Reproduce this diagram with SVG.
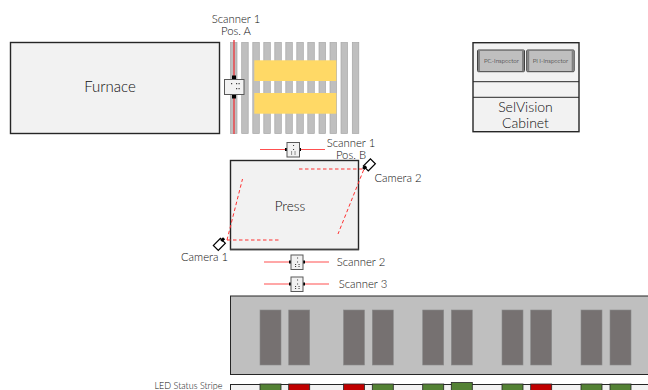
<svg xmlns="http://www.w3.org/2000/svg" width="648" height="390" viewBox="0 0 648 390">
<style>
text{font-family:"Lato","Open Sans",sans-serif;font-weight:300;fill:#0d0d0d;text-anchor:middle}
.lbl{font-size:11.300px}
.box{fill:#f2f2f2;stroke:#262626;stroke-width:1.4}
.roller{fill:#bfbfbf;stroke:#a6a6a6;stroke-width:.7}
.yellow{fill:#ffd966}
.dark{fill:#767171;stroke:#8a8a8a;stroke-width:.6}
.ray{stroke:#ff5050;stroke-width:1;fill:none}
.pink{stroke:#ff8a8a;stroke-width:1.300;fill:none}
.dash{stroke:#ff3030;stroke-width:1;stroke-dasharray:3.500 2.500;fill:none}
.scan{fill:#f2f2f2;stroke:#595959;stroke-width:1}
.dot{fill:#404040}
.cam{fill:#fff;stroke:#000;stroke-width:1.200}
.g{fill:#548235;stroke:#262626;stroke-width:.8}
.r{fill:#c00000;stroke:#262626;stroke-width:.8}
.insp{fill:#bfbfbf;stroke:#404040;stroke-width:1}
</style>
<g id="furnace"><rect class="box" x="10.500" y="42.500" width="209" height="91"/><text x="110" y="92" font-size="15">Furnace</text></g>
<g id="rollers">
<rect class="roller" x="230.500" y="42.500" width="6.500" height="91"/><rect class="roller" x="241.700" y="42.500" width="6.500" height="91"/><rect class="roller" x="252.800" y="42.500" width="6.500" height="91"/><rect class="roller" x="263.800" y="42.500" width="6.500" height="91"/><rect class="roller" x="274.800" y="42.500" width="6.500" height="91"/><rect class="roller" x="285.800" y="42.500" width="6.500" height="91"/><rect class="roller" x="296.800" y="42.500" width="6.500" height="91"/><rect class="roller" x="307.800" y="42.500" width="6.500" height="91"/><rect class="roller" x="319" y="42.500" width="6.500" height="91"/><rect class="roller" x="330" y="42.500" width="6.500" height="91"/><rect class="roller" x="341" y="42.500" width="6.500" height="91"/><rect class="roller" x="352.300" y="42.500" width="6.500" height="91"/>
<rect class="yellow" x="254.300" y="60.300" width="82" height="20.700"/><rect class="yellow" x="254.300" y="93" width="82" height="20.700"/>
</g>
<g id="press"><rect class="box" x="230.500" y="160.500" width="128" height="89"/><path d="M230 249.500H359" stroke="#404040" stroke-width="1.500"/><text x="290" y="211" font-size="13.500">Press</text></g>
<g id="connectors">
<path d="M234 40V134" stroke="#e8474c" stroke-width="1.500" fill="none"/>
<path class="ray" d="M260 149.500H325"/>
<path class="pink" d="M264 262H329M264 284H329"/>
<path class="dash" d="M299 169H364L338 234M227 240H281M227 240L242.500 179"/>
</g>
<g id="scanner-1-a"><rect x="232" y="75.500" width="4" height="23" fill="#000"/><rect class="scan" x="224.500" y="79.500" width="19.500" height="15" stroke="#262626"/><path class="dot" d="M231 83h1.200v1.200H231zM236 83h1.200v1.200H236zM238.500 83h1.200v1.200h-1.200zM236 88h1.200v1.200H236zM238.500 88h1.200v1.200h-1.200z"/><text class="lbl" x="236" y="23">Scanner 1</text><text class="lbl" x="236" y="35">Pos. A</text></g>
<g id="scanner-1-b"><rect x="285" y="148" width="16" height="3" fill="#000"/><rect class="scan" x="287" y="142.500" width="12.500" height="14.500"/><path class="dot" d="M293 145h1.100v1.100H293zM293 149h1.100v1.100H293zM291 151.500h1.100v1.100H291zM294.500 151.500h1.100v1.100h-1.100zM291 153.500h1.100v1.100H291zM294.500 153.500h1.100v1.100h-1.100z"/><text class="lbl" x="351" y="147">Scanner 1</text><text class="lbl" x="351" y="159">Pos. B</text></g>
<g id="camera-1"><rect class="cam" x="-5" y="-3" width="10" height="7" transform="translate(219 244) rotate(-45)"/><rect x="-2" y="-2" width="4" height="3" transform="translate(223 240) rotate(-45)"/><text class="lbl" x="204.500" y="261">Camera 1</text></g>
<g id="camera-2"><rect class="cam" x="-5" y="-3" width="10" height="7" transform="translate(369 164.500) rotate(-45)"/><rect x="-2" y="-2" width="4" height="3" transform="translate(365 168) rotate(-45)"/><text class="lbl" x="398" y="182">Camera 2</text></g>
<g id="scanner-2"><rect x="289" y="260.500" width="16" height="3" fill="#000"/><rect class="scan" x="291" y="255" width="12" height="14.500"/><path class="dot" d="M297 257.500h1.100v1.100H297zM297 261.500h1.100v1.100H297zM295 264h1.100v1.100H295zM298.500 264h1.100v1.100h-1.100zM295 266h1.100v1.100H295zM298.500 266h1.100v1.100h-1.100z"/><text class="lbl" x="361" y="266">Scanner 2</text></g>
<g id="scanner-3"><rect x="289" y="282.500" width="16" height="3" fill="#000"/><rect class="scan" x="291" y="277" width="12" height="14.500"/><path class="dot" d="M297 279.500h1.100v1.100H297zM297 283.500h1.100v1.100H297zM295 286h1.100v1.100H295zM298.500 286h1.100v1.100h-1.100zM295 288h1.100v1.100H295zM298.500 288h1.100v1.100h-1.100z"/><text class="lbl" x="363" y="288">Scanner 3</text></g>
<g id="lehr"><rect x="230.500" y="296" width="430" height="78.500" fill="#bfbfbf" stroke="#262626" stroke-width="1"/>
<rect class="dark" x="260" y="310" width="21" height="55"/><rect class="dark" x="288.700" y="310" width="21" height="55"/><rect class="dark" x="343.500" y="310" width="21" height="55"/><rect class="dark" x="372.300" y="310" width="21" height="55"/><rect class="dark" x="422.700" y="310" width="21" height="55"/><rect class="dark" x="451.300" y="310" width="21" height="55"/><rect class="dark" x="502" y="310" width="21" height="55"/><rect class="dark" x="530.700" y="310" width="21" height="55"/><rect class="dark" x="581" y="310" width="21" height="55"/><rect class="dark" x="610" y="310" width="21" height="55"/></g>
<g id="led-stripe"><rect x="230.500" y="384.500" width="430" height="20" fill="#f2f2f2" stroke="#262626" stroke-width="1"/>
<rect class="g" x="260" y="384" width="21" height="10"/><rect class="r" x="288.700" y="384" width="21" height="10"/><rect class="r" x="343.500" y="384" width="21" height="10"/><rect class="g" x="372.300" y="384" width="21" height="10"/><rect class="g" x="422.700" y="384" width="21" height="10"/><rect class="g" x="451.300" y="382.500" width="21" height="12"/><rect class="g" x="502" y="384" width="21" height="10"/><rect class="r" x="530.700" y="384" width="21" height="10"/><rect class="g" x="581" y="384" width="21" height="10"/><rect class="g" x="610" y="384" width="21" height="10"/>
<text x="188.500" y="388.500" font-size="9">LED Status Stripe</text></g>
<g id="selvision-cabinet"><rect class="box" x="473" y="42.700" width="106" height="89" stroke="#404040"/><path d="M473 81.700H579M473 97.300H579" stroke="#262626" stroke-width="1"/>
<rect class="insp" x="477.500" y="50" width="47" height="21.700" rx="1"/><rect x="478" y="50.500" width="2" height="20.700" fill="#7f7f7f"/><rect x="522" y="50.500" width="2" height="20.700" fill="#7f7f7f"/><rect class="insp" x="526.700" y="50" width="47.500" height="21.700" rx="1"/><rect x="527.200" y="50.500" width="2" height="20.700" fill="#7f7f7f"/><rect x="571.700" y="50.500" width="2" height="20.700" fill="#7f7f7f"/>
<text x="501.500" y="63" font-size="6.200">PC-Inspector</text><text x="550.500" y="63" font-size="6.200">PH-Inspector</text>
<text x="525.500" y="112" font-size="14">SelVision</text><text x="525.500" y="128" font-size="14">Cabinet</text></g>
</svg>
